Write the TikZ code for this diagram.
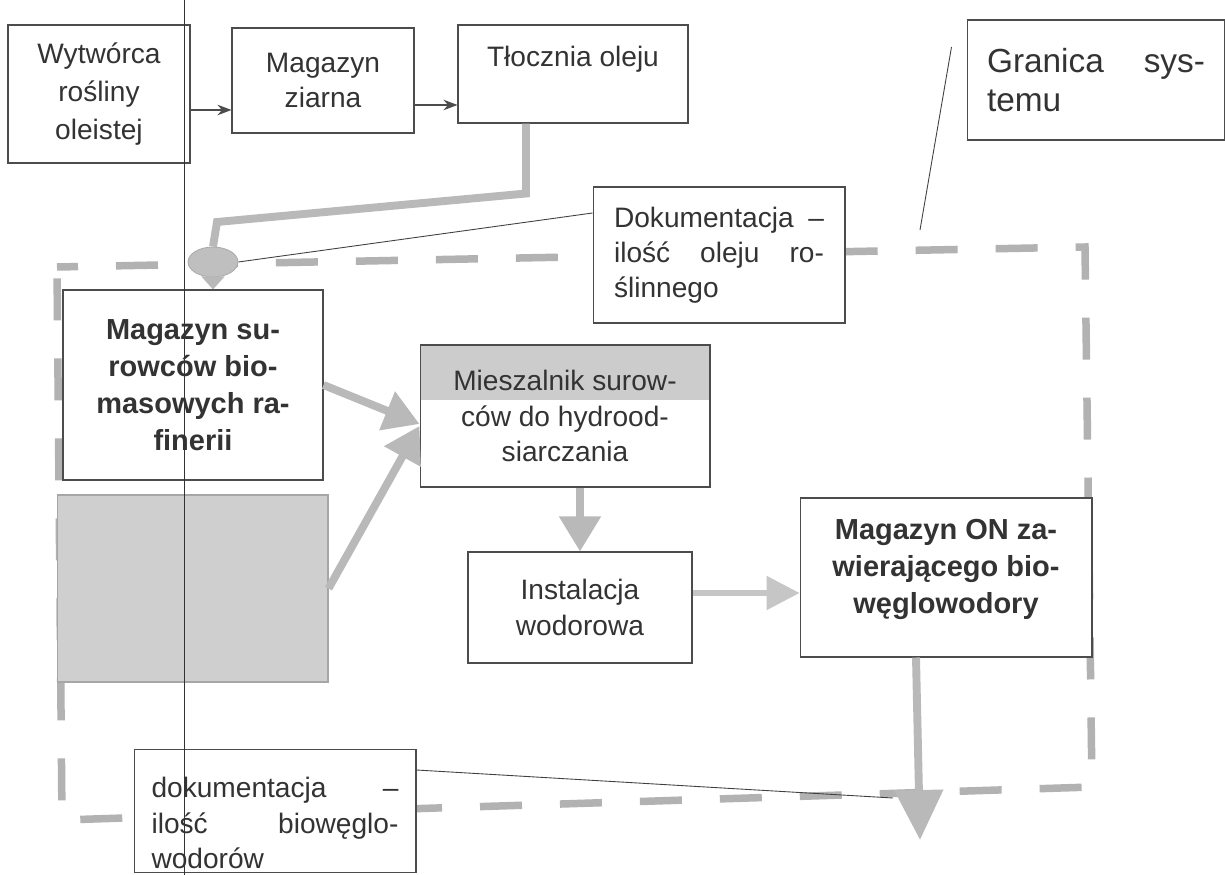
\documentclass[tikz,border=0pt]{standalone}
\usepackage{fontspec}
\setmainfont{Liberation Sans}
\usetikzlibrary{arrows.meta,shapes.geometric}

\begin{document}
\begin{tikzpicture}[x=0.02cm, y=-0.02cm, font=\fontsize{16}{20}\selectfont,
  box/.style={draw=black!70, line width=0.6pt, fill=white, text=black!80, align=center, inner sep=2pt},
  boxB/.style={box, font=\fontsize{16.5}{21}\selectfont\bfseries},
  doc/.style={box, align=left},
  feed/.style={draw=black!70, line width=0.7pt, -{Stealth[length=8pt, width=6pt]}},
  flow/.style={draw=gray!55, line width=4.5pt},
  flowA/.style={flow, -{Triangle[width=0.8cm, length=0.7cm]}},
  note/.style={draw=black!75, line width=0.5pt},
  bound/.style={draw=gray!60, line width=0.15cm, dash pattern=on 0.84cm off 0.76cm, dash phase=0.42cm}]
\fill[white] (0,0) rectangle (1225,875);
\useasboundingbox (0,0) rectangle (1225,875);
% system boundary
\coordinate (b1) at (57,267); \coordinate (b2) at (1085,247);
\coordinate (b3) at (1092,787); \coordinate (b4) at (62,820);
\draw[bound] (b1) -- (b2) -- (b3) -- (b4) -- cycle;
% top row
\node[box, minimum width=3.64cm, minimum height=2.76cm, font=\fontsize{16}{21.5}\selectfont] (wyt) at (99,94) {Wytwórca\\rośliny\\oleistej};
\node[box, minimum width=3.64cm, minimum height=2.1cm] (mag) at (323,80.5) {Magazyn\\ziarna};
\node[box, minimum width=4.6cm, minimum height=1.96cm] (tlo) at (573,74) {Tłocznia oleju\\ \mbox{}};
\node[doc, text width=4.36cm, inner xsep=0.4cm, minimum height=2.4cm, font=\fontsize{19}{22}\selectfont] (gran) at (1096,80) {Granica\hfill sys-\\temu};
\node[doc, text width=4.2cm, inner xsep=0.42cm, minimum height=2.72cm] (dok1) at (719,255) {Dokumentacja\hfill–\\ilość\hfill oleju\hfill ro-\\ślinnego};
\node[ellipse, fill=gray!50, draw=gray!70, minimum width=1cm, minimum height=0.6cm, inner sep=0pt] (pass) at (213,262) {};
% refinery
\node[boxB, minimum width=5.2cm, minimum height=3.8cm] (msur) at (193,385) {Magazyn su-\\rowców bio-\\masowych ra-\\finerii};
\node[box, fill=gray!38, draw=gray!70, minimum width=5.42cm, minimum height=3.74cm] (shade) at (192.5,588.5) {};
\node[box, minimum width=5.8cm, minimum height=2.84cm, path picture={\fill[gray!40] (path picture bounding box.north west) rectangle ([yshift=-1.1cm]path picture bounding box.north east);}] (miesz) at (565,416) {Mieszalnik surow-\\ców do hydrood-\\siarczania};
\node[box, minimum width=4.48cm, minimum height=2.22cm] (inst) at (580,607.5) {Instalacja\\wodorowa};
\node[boxB, minimum width=5.84cm, minimum height=3.18cm] (mon) at (946,577.5) {Magazyn ON za-\\wierającego bio-\\węglowodory\rule[-0.44cm]{0pt}{0.44cm}};
\node[doc, text width=4.94cm, inner xsep=0.35cm, minimum height=2.36cm] (dok2) at (275,811) {\rule{0pt}{0.89cm}dokumentacja\hfill–\\ilość\hfill biowęglo-\\wodorów};
% flows
\draw[feed] ([yshift=-0.32cm]wyt.east) -- ([yshift=-0.32cm]wyt.east -| mag.west);
\draw[feed] ([yshift=-0.49cm]mag.east) -- ([yshift=-0.49cm]mag.east -| tlo.west);
\coordinate (bend) at (217,222);
\draw[flow] ([xshift=-0.94cm]tlo.south) -- ++(0,70) -- (bend) -- (pass.north);
\draw[flow, line width=2.5pt, -{Triangle[width=0.45cm, length=0.26cm]}] (pass.south) -- (pass.south |- msur.north);
\draw[flowA] (msur.east) -- ([yshift=-0.16cm]miesz.west);
\draw[flowA] (shade.east) -- ([yshift=-0.2cm]miesz.west);
\draw[flowA] (inst.north |- miesz.south) -- (inst.north);
\draw[flow, line width=3pt, draw=gray!45, -{Triangle[width=0.66cm, length=0.66cm]}] ([yshift=0.29cm]inst.east) -- ([yshift=0.29cm]inst.east -| mon.west);
\coordinate (out) at (920,840);
\draw[flow, -{Triangle[width=0.94cm, length=1cm]}] ([xshift=-0.6cm]mon.south) -- (out);
% pointer lines
\draw[note] ([yshift=0.84cm]dok1.west) -- (pass.east);
\coordinate (gpt) at (920,230);
\draw[note] ([xshift=-0.3cm, yshift=0.66cm]gran.west) -- (gpt);
\coordinate (headl) at (893,798);
\draw[note] ([yshift=0.82cm]dok2.east) -- (headl);
% scan line
\draw[black!80, line width=0.5pt] (184,0) -- (184,875);
\end{tikzpicture}
\end{document}
